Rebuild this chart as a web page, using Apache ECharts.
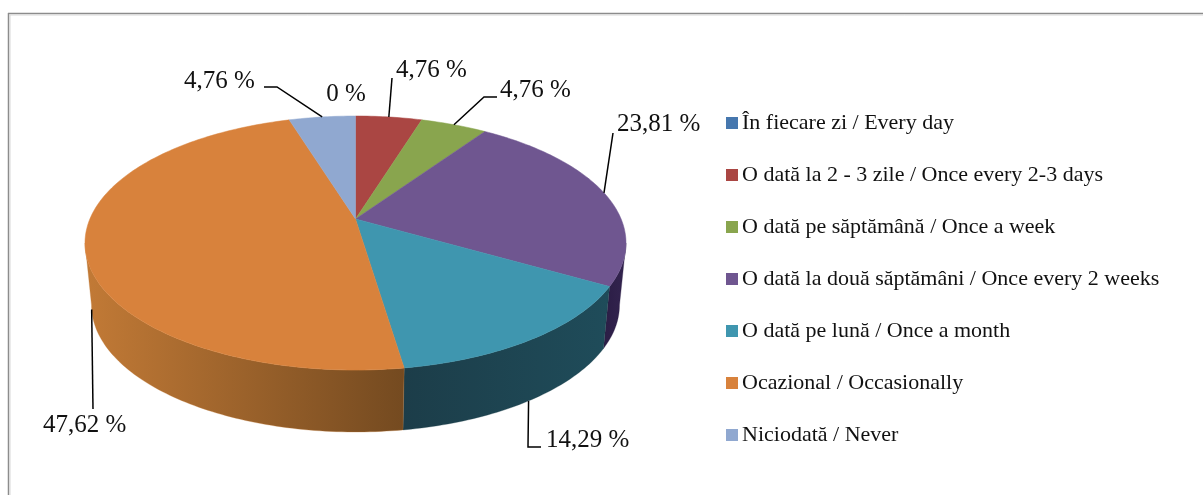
<!DOCTYPE html>
<html>
<head>
<meta charset="utf-8">
<style>html,body{margin:0;padding:0;background:#fff}#c{width:1203px;height:495px}</style>
<script src="https://cdn.jsdelivr.net/npm/echarts@6/dist/echarts.min.js"></script>
</head>
<body>
<div id="c"></div>
<script>
const categories = [
  'În fiecare zi / Every day',
  'O dată la 2 - 3 zile / Once every 2-3 days',
  'O dată pe săptămână / Once a week',
  'O dată la două săptămâni / Once every 2 weeks',
  'O dată pe lună / Once a month',
  'Ocazional / Occasionally',
  'Niciodată / Never'
];
const values = [0, 4.76, 4.76, 23.81, 14.29, 47.62, 4.76];
const colors = ['#4677ae', '#aa4643', '#89a54e', '#6f5690', '#3f96af', '#d8823c', '#90a8d0'];
const wallColors = [
  ['#2b4060', '#2b4060'], ['#5c2624', '#5c2624'], ['#4a5a2a', '#4a5a2a'],
  ['#2b1d45', '#33244f'], ['#1c3d49', '#1f4c5a'], ['#c27a36', '#744a20'], ['#4f5b70', '#4f5b70']
];

// pie projection (layout)
const TOP = {cx: 355.5, cy: 243, rx: 270.5, ry: 127};
const BOTTOM = {cx: 355.5, cy: 305, rx: 264, ry: 127};
const PERSPECTIVE = 0.189;
// label text position and leader bend points (layout)
const labelLayout = [
  {x: 346, y: 94, align: 'center', leader: null},
  {x: 396, y: 70, align: 'left', leader: [[392, 78]], ring: 'top'},
  {x: 500, y: 90, align: 'left', leader: [[484, 97], [497, 97]], ring: 'top'},
  {x: 617, y: 124, align: 'left', leader: [[613, 133]], ring: 'top'},
  {x: 546, y: 440, align: 'left', leader: [[528, 447], [541, 447]], ring: 'bottom'},
  {x: 43, y: 425, align: 'left', leader: [[93, 409]], ring: 'bottom'},
  {x: 184, y: 81, align: 'left', leader: [[277, 87], [264, 87]], ring: 'top'}
];

const total = values.reduce((a, b) => a + b, 0);
const starts = [];
values.reduce((acc, v, i) => { starts[i] = acc; return acc + v; }, 0);

function rim(ring, deg) {
  const t = deg * Math.PI / 180, u = Math.sin(t), v = Math.cos(t), p = PERSPECTIVE;
  const d = 1 + p * v;
  return [ring.cx + ring.rx * u * Math.sqrt(1 - p * p) / d, ring.cy - ring.ry * (v + p) / d];
}
function fmt(v) { return (v === 0 ? '0' : v.toFixed(2).replace('.', ',')) + ' %'; }

const hiddenLimit = Math.acos(-PERSPECTIVE) * 180 / Math.PI; // front wall visible between these angles

function renderSlice(i, params, api) {
  const value = api.value(0);
  const a0 = starts[i] / total * 360, a1 = (starts[i] + value) / total * 360;
  const children = [];
  if (value > 0) {
    // top face
    const top = [rim(TOP, 0).map((_, k) => k === 0 ? TOP.cx : TOP.cy - TOP.ry * PERSPECTIVE)];
    for (let a = a0; a < a1; a += 1) top.push(rim(TOP, a));
    top.push(rim(TOP, a1));
    children.push({type: 'polygon', z2: 10, shape: {points: top},
      style: {fill: colors[i], stroke: colors[i], lineWidth: 0.5}});
    // front wall
    const w0 = Math.max(a0, hiddenLimit), w1 = Math.min(a1, 360 - hiddenLimit);
    if (w1 > w0) {
      const pts = [], back = [];
      for (let a = w0; a < w1; a += 1) { pts.push(rim(TOP, a)); back.push(rim(BOTTOM, a)); }
      pts.push(rim(TOP, w1)); back.push(rim(BOTTOM, w1));
      children.push({type: 'polygon', z2: 5, shape: {points: pts.concat(back.reverse())},
        style: {
          fill: {type: 'linear', x: 0, y: 0, x2: 1, y2: 0, colorStops: [
            {offset: 0, color: wallColors[i][0]}, {offset: 1, color: wallColors[i][1]}]},
          stroke: wallColors[i][0], lineWidth: 0.3
        }});
    }
  }
  // label & leader
  const L = labelLayout[i];
  if (L.leader && value > 0) {
    const start = rim(L.ring === 'bottom' ? BOTTOM : TOP, (a0 + a1) / 2);
    children.push({type: 'polyline', z2: 20, shape: {points: [start].concat(L.leader)},
      style: {fill: 'none', stroke: '#000', lineWidth: 1.5}});
  }
  children.push({type: 'text', z2: 30, style: {
    text: fmt(value), x: L.x, y: L.y, fill: '#111',
    font: '25px "Liberation Serif"', textAlign: L.align, verticalAlign: 'middle', textVerticalAlign: 'middle'
  }});
  return {type: 'group', children};
}

const chart = echarts.init(document.getElementById('c'), null, {renderer: 'canvas'});
chart.setOption({
  animation: false,
  backgroundColor: '#fff',
  legend: {
    orient: 'vertical', left: 721, top: 106, itemWidth: 12, itemHeight: 12, itemGap: 28, selectedMode: false,
    icon: 'rect', data: categories,
    textStyle: {fontFamily: '"Liberation Serif"', fontSize: 22, color: '#111', lineHeight: 24, padding: [0, 0, 0, -1]}
  },
  graphic: [
    {type: 'line', shape: {x1: 8, y1: 13.5, x2: 1203, y2: 13.5}, style: {stroke: '#8c8c8c', lineWidth: 1.5}},
    {type: 'line', shape: {x1: 8.5, y1: 13, x2: 8.5, y2: 495}, style: {stroke: '#8c8c8c', lineWidth: 1.5}},
    {type: 'line', shape: {x1: 9, y1: 15, x2: 1203, y2: 15}, style: {stroke: '#d8d8d8', lineWidth: 1}},
    {type: 'line', shape: {x1: 10, y1: 15, x2: 10, y2: 495}, style: {stroke: '#d8d8d8', lineWidth: 1}}
  ],
  series: categories.map((name, i) => ({
    type: 'custom', name, coordinateSystem: 'none', silent: true, clip: false,
    itemStyle: {color: colors[i]},
    data: [[values[i]]],
    renderItem: (params, api) => renderSlice(i, params, api)
  }))
});
</script>
</body>
</html>
